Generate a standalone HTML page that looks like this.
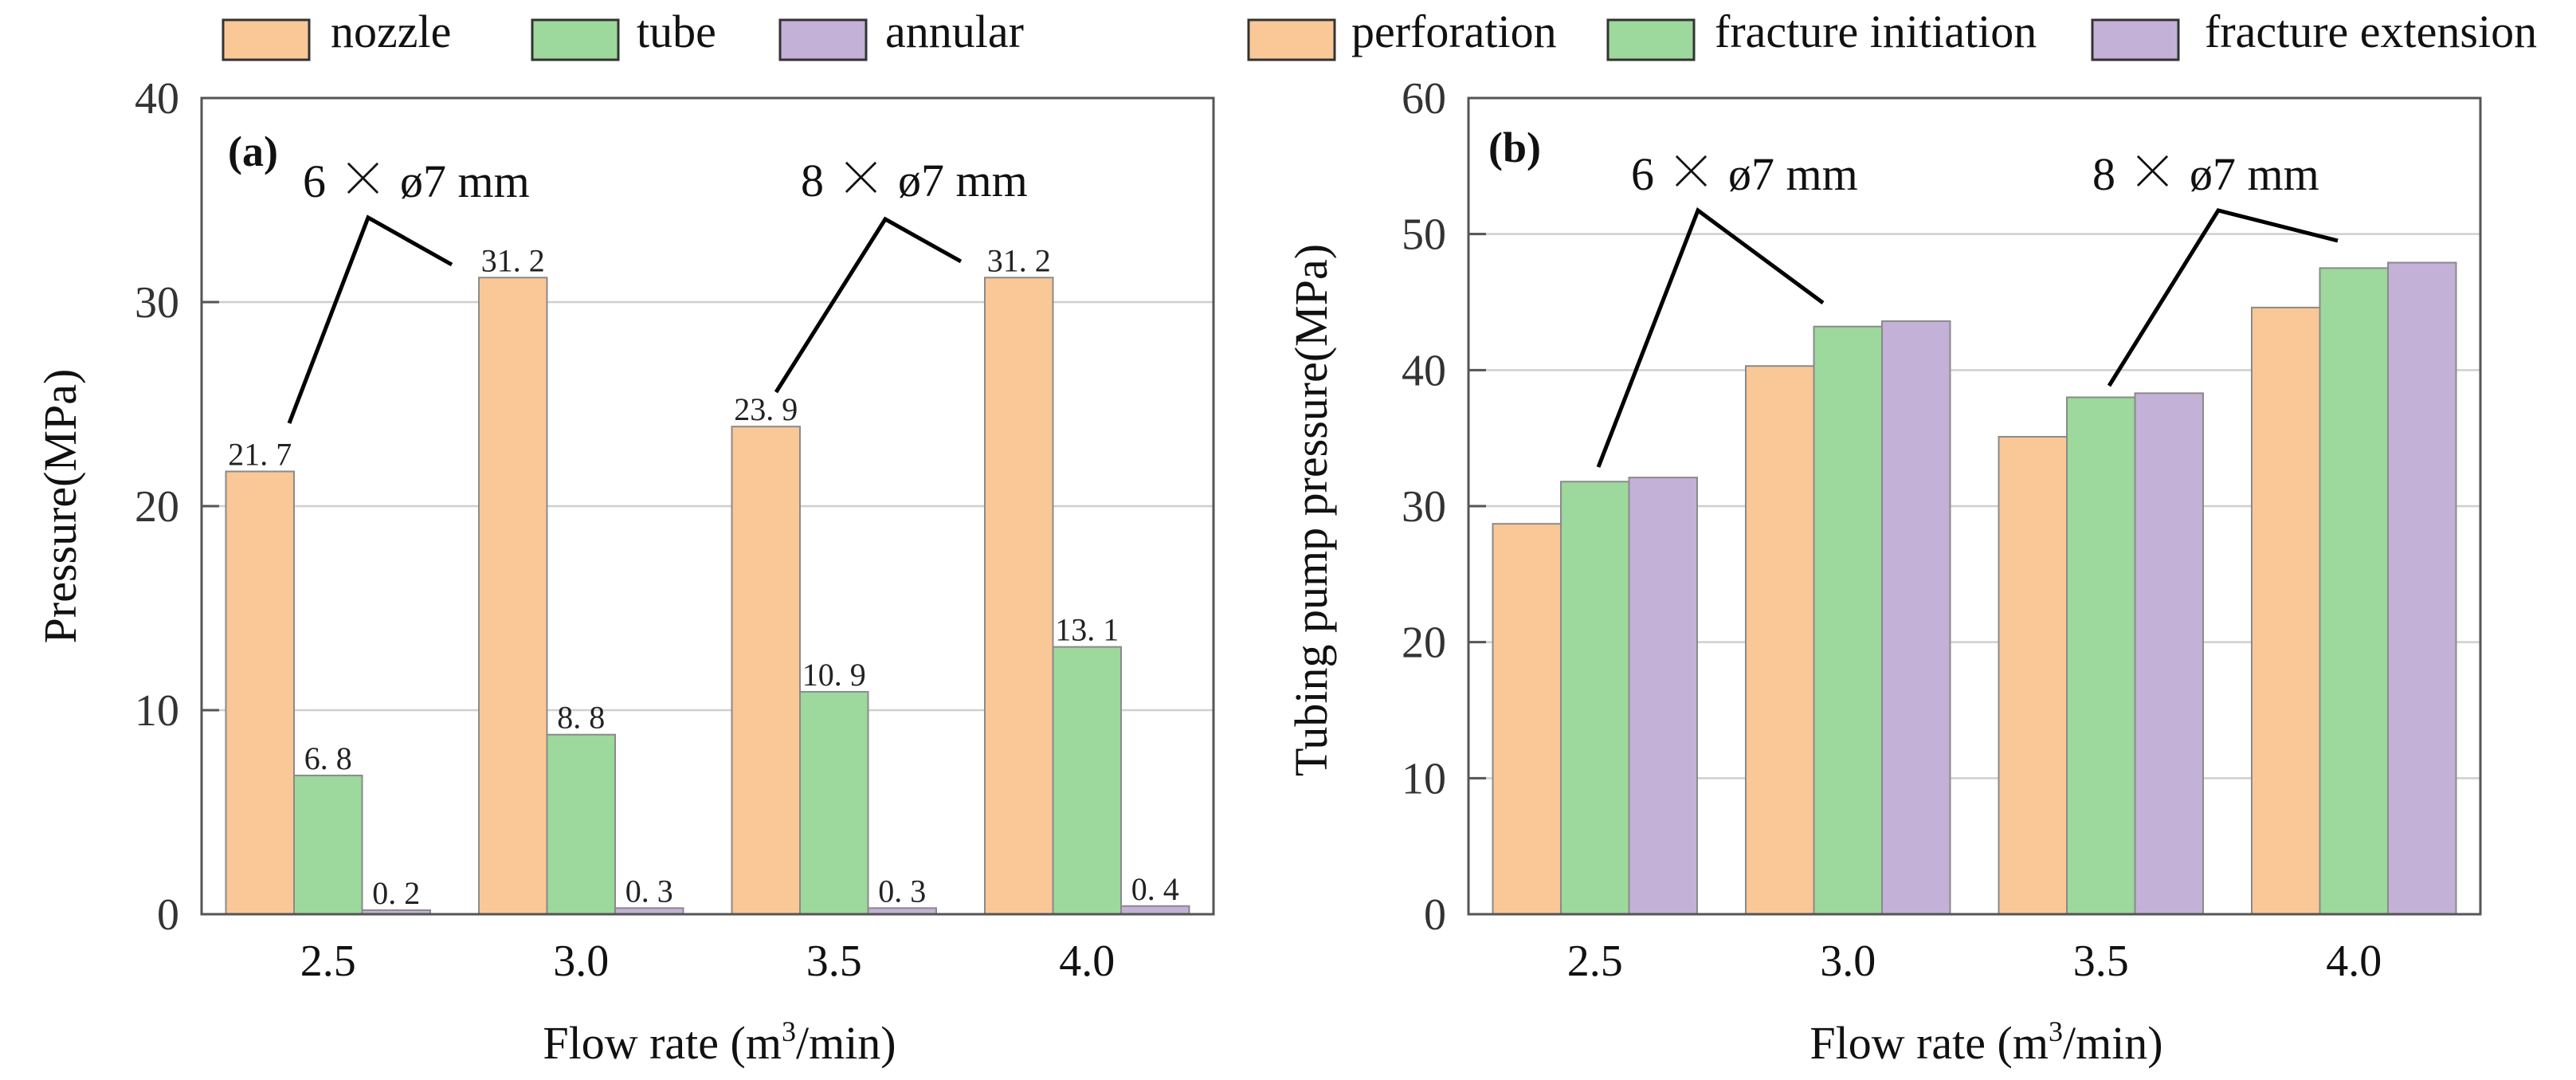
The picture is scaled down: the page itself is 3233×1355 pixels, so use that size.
<!DOCTYPE html>
<html><head><meta charset="utf-8"><style>
html,body{margin:0;padding:0;background:#fff;}
svg{display:block;font-family:"Liberation Serif",serif;}
</style></head><body>
<svg id="c" width="3233" height="1355" viewBox="0 0 3233 1355" xmlns="http://www.w3.org/2000/svg"></svg>
<script>
const categories = ["2.5","3.0","3.5","4.0"];
const nozzle = [21.7,31.2,23.9,31.2];
const tube = [6.8,8.8,10.9,13.1];
const annular = [0.2,0.3,0.3,0.4];
const perforation = [28.7,40.3,35.1,44.6];
const initiation = [31.8,43.2,38.0,47.5];
const extension = [32.1,43.6,38.3,47.9];
const ticksA = [0,10,20,30,40];
const ticksB = [0,10,20,30,40,50,60];
const labelsA = [["21. 7","31. 2","23. 9","31. 2"],["6. 8","8. 8","10. 9","13. 1"],["0. 2","0. 3","0. 3","0. 4"]];

const NS="http://www.w3.org/2000/svg";
const svg=document.getElementById('c');
const COLORS=["#f9c896","#9dd89c","#c3b1d8"];
function mk(tag,attrs,parent,text){const e=document.createElementNS(NS,tag);for(const k in attrs)e.setAttribute(k,attrs[k]);if(text!==undefined)e.textContent=text;(parent||svg).appendChild(e);return e;}

function chart(opt){
  const g=mk('g',{});
  
  
  const L=opt.left,R=opt.left+1270,T=123,B=1147,ymax=opt.ymax;
  const y=v=>B-(v/ymax)*(B-T);
  const band=(R-L)/categories.length;
  const bw=85.5;
  opt.ticks.forEach(t=>{
    if(t>0&&t<ymax){const l=mk('line',{x1:L,x2:R,y1:y(t),y2:y(t),stroke:'#cfcfcf','stroke-width':2.5},g);
      }
    const tl=mk('line',{x1:L,x2:L+22,y1:y(t),y2:y(t),stroke:'#555','stroke-width':3},g);
    
    const tx=mk('text',{x:L-28,y:y(t)+19,'text-anchor':'end','font-size':56,fill:'#333'},g,String(t));
    
  });
  opt.series.forEach((s,si)=>{
    s.forEach((v,i)=>{
      const cx=L+band*(i+0.5);
      const x=cx-1.5*bw+si*bw;
      const r=mk('rect',{x:x,y:y(v),width:bw,height:B-y(v),fill:COLORS[si],stroke:'#8a8a8a','stroke-width':2},g);
      
      
      if(opt.labels){
        const t=mk('text',{x:x+bw/2,y:y(v)-8,'text-anchor':'middle','font-size':40,fill:'#222'},g,opt.labels[si][i]);
        
      }
    });
  });
  const f=mk('rect',{x:L,y:T,width:R-L,height:B-T,fill:'none',stroke:'#555','stroke-width':3},g);
  
  categories.forEach((c,i)=>{
    const t=mk('text',{x:L+band*(i+0.5),y:1224,'text-anchor':'middle','font-size':56,fill:'#111'},g,c);
    
  });
  const xt=mk('text',{x:(L+R)/2+15,y:1328,'text-anchor':'middle','font-size':58,fill:'#111'},g);
  
  xt.innerHTML='Flow rate (m<tspan dy="-22" font-size="36">3</tspan><tspan dy="22">/min)</tspan>';
  const yt=mk('text',{x:0,y:0,'text-anchor':'middle','font-size':58,fill:'#111',transform:`translate(${opt.ytx},${opt.yty}) rotate(-90)`},g,opt.ytitle);
  
  const p=mk('text',{x:opt.px,y:opt.py,'font-size':54,'font-weight':'bold',fill:'#111'},g,opt.panel);
  
  opt.ann.forEach(a=>{
    const t=mk('text',{x:a.tx,y:a.ty,'font-size':58,fill:'#111'},g);
    
    t.innerHTML=a.n+' <tspan font-family="Noto Serif CJK SC, serif" font-size="64">×</tspan> ø7 mm';
    const pl=mk('polyline',{points:a.pts,fill:'none',stroke:'#000','stroke-width':5},g);
    
  });
}

chart({name:'chart-a',left:253,ymax:40,ticks:ticksA,series:[nozzle,tube,annular],snames:['nozzle','tube','annular'],labels:labelsA,
  ytitle:'Pressure(MPa)',ytx:95,yty:635,panel:'(a)',px:286,py:208,
  ann:[{n:'6',tx:380,ty:247,pts:'363,531 462,273 567,332'},
       {n:'8',tx:1005,ty:246,pts:'974,492 1111,275 1206,328'}]});
chart({name:'chart-b',left:1843,ymax:60,ticks:ticksB,series:[perforation,initiation,extension],snames:['perforation','fracture-initiation','fracture-extension'],labels:null,
  ytitle:'Tubing pump pressure(MPa)',ytx:1665,yty:640,panel:'(b)',px:1868,py:203,
  ann:[{n:'6',tx:2047,ty:238,pts:'2006,586 2131,264 2288,380'},
       {n:'8',tx:2626,ty:238,pts:'2647,484 2784,264 2934,302'}]});

const legend=[["nozzle",280,415,0],["tube",668,799,1],["annular",979,1111,2],["perforation",1567,1696,0],["fracture initiation",2018,2152,1],["fracture extension",2626,2767,2]];
legend.forEach(l=>{
  const g=mk('g',{});
  
  
  mk('rect',{x:l[1],y:25,width:108,height:50,fill:COLORS[l[3]],stroke:'#333','stroke-width':3},g);
  mk('text',{x:l[2],y:59,'font-size':58,fill:'#111'},g,l[0]);
});
</script>
</body></html>
